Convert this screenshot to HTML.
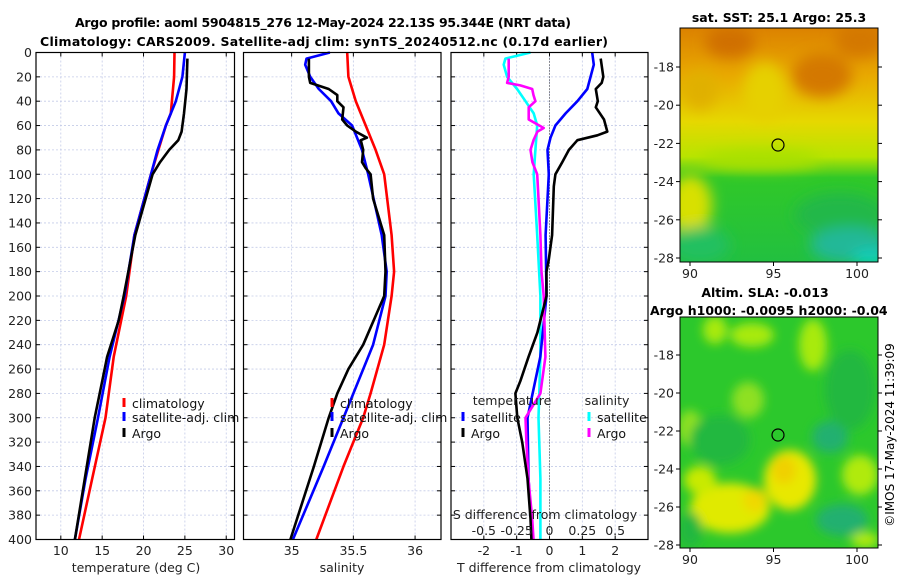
<!DOCTYPE html>
<html><head><meta charset="utf-8">
<style>
html,body{margin:0;padding:0;background:#fff;}
svg{display:block;font-family:"DejaVu Sans","Liberation Sans",sans-serif;}
</style></head>
<body>
<svg id="fig" width="900" height="580" viewBox="0 0 900 580">
<defs>
<filter id="blur1" x="-50%" y="-50%" width="200%" height="200%"><feGaussianBlur stdDeviation="7"/></filter>
<filter id="blur2" x="-50%" y="-50%" width="200%" height="200%"><feGaussianBlur stdDeviation="5"/></filter>
<clipPath id="clipTop"><rect x="680" y="28" width="198" height="234"/></clipPath>
<clipPath id="clipBot"><rect x="680" y="317" width="198" height="231"/></clipPath>
<linearGradient id="sstGrad" x1="0" y1="0" x2="0" y2="1">
<stop offset="0" stop-color="#dc8200"/><stop offset="0.2" stop-color="#e8a800"/>
<stop offset="0.4" stop-color="#e6d800"/><stop offset="0.55" stop-color="#b8e400"/>
<stop offset="0.64" stop-color="#30c828"/><stop offset="1" stop-color="#22c040"/>
</linearGradient>
</defs>
<text x="323" y="27" font-size="12.5" font-weight="bold" text-anchor="middle" textLength="496">Argo profile: aoml 5904815_276 12-May-2024 22.13S 95.344E (NRT data)</text>
<text x="324" y="46" font-size="12.5" font-weight="bold" text-anchor="middle" textLength="568">Climatology: CARS2009. Satellite-adj clim: synTS_20240512.nc (0.17d earlier)</text>

<g id="p1"></g>
<g id="p2"></g>
<g id="p3"></g>

<!-- SST map -->
<g>
<text x="779" y="22" font-size="12.5" font-weight="bold" text-anchor="middle">sat. SST: 25.1 Argo: 25.3</text>
<g clip-path="url(#clipTop)">
<rect x="680" y="28" width="198" height="234" fill="url(#sstGrad)"/>
<g filter="url(#blur1)">
<ellipse cx="730" cy="42" rx="25" ry="16" fill="#d07000"/>
<ellipse cx="822" cy="75" rx="30" ry="22" fill="#d47800"/>
<ellipse cx="860" cy="40" rx="25" ry="18" fill="#d47800"/>
<ellipse cx="765" cy="92" rx="22" ry="30" fill="#e6d000"/>
<ellipse cx="700" cy="90" rx="18" ry="20" fill="#e0b000"/>
<ellipse cx="690" cy="205" rx="22" ry="30" fill="#d8e000"/>
<ellipse cx="840" cy="215" rx="45" ry="22" fill="#22b848"/>
<ellipse cx="850" cy="245" rx="40" ry="18" fill="#20b898"/>
<ellipse cx="870" cy="258" rx="18" ry="8" fill="#10d0c0"/>
<ellipse cx="700" cy="245" rx="30" ry="18" fill="#22c060"/>
<ellipse cx="760" cy="160" rx="60" ry="10" fill="#a8e000"/>
</g>
</g>
<rect x="680" y="28" width="198" height="234" fill="none" stroke="#000" stroke-width="1"/>
<circle cx="778" cy="145" r="6" fill="none" stroke="#000" stroke-width="1.2"/>
<g id="mapTopAxis"></g>
</g>

<!-- SLA map -->
<g>
<text x="765" y="297" font-size="12.5" font-weight="bold" text-anchor="middle">Altim. SLA: -0.013</text>
<text x="650" y="315" font-size="12.5" font-weight="bold">Argo h1000: -0.0095 h2000: -0.04</text>
<g clip-path="url(#clipBot)">
<rect x="680" y="317" width="198" height="231" fill="#2cc82c"/>
<g filter="url(#blur2)">
<ellipse cx="715" cy="330" rx="12" ry="14" fill="#a8ea10"/>
<ellipse cx="752" cy="335" rx="22" ry="12" fill="#a8ea10"/>
<ellipse cx="813" cy="345" rx="14" ry="26" fill="#a8ea10"/>
<ellipse cx="748" cy="400" rx="16" ry="18" fill="#8ee020"/>
<ellipse cx="690" cy="428" rx="12" ry="18" fill="#8ee020"/>
<ellipse cx="860" cy="475" rx="18" ry="20" fill="#b0ea10"/>
<ellipse cx="865" cy="540" rx="14" ry="8" fill="#b0ea10"/>
<ellipse cx="790" cy="480" rx="26" ry="30" fill="#e8e800"/>
<ellipse cx="784" cy="470" rx="12" ry="14" fill="#f0d000"/>
<ellipse cx="730" cy="508" rx="40" ry="25" fill="#e0ea00"/>
<ellipse cx="755" cy="500" rx="12" ry="12" fill="#f0d800"/>
<ellipse cx="700" cy="480" rx="16" ry="14" fill="#c8ea00"/>
<ellipse cx="830" cy="437" rx="18" ry="16" fill="#20b070"/>
<ellipse cx="842" cy="520" rx="26" ry="16" fill="#20b070"/>
<ellipse cx="850" cy="390" rx="25" ry="40" fill="#22b840"/>
<ellipse cx="720" cy="440" rx="30" ry="25" fill="#22b840"/>
<ellipse cx="690" cy="530" rx="12" ry="18" fill="#22b840"/>
</g>
</g>
<rect x="680" y="317" width="198" height="231" fill="none" stroke="#000" stroke-width="1"/>
<circle cx="778" cy="435" r="6" fill="none" stroke="#000" stroke-width="1.2"/>
<g id="mapBotAxis"></g>
</g>
<text transform="translate(894,435) rotate(-90)" font-size="12" text-anchor="middle">©IMOS 17-May-2024 11:39:09</text>
</svg>

<script>
// ---- data ----
const depthTicks = [0,20,40,60,80,100,120,140,160,180,200,220,240,260,280,300,320,340,360,380,400];
const tempTicks = [10,15,20,25,30];
const salTicks = [35,35.5,36];
const tdiffTicks = [-2,-1,0,1,2];
const sdiffTicks = [-0.5,-0.25,0,0.25,0.5];
const sdiffTickLabels = ["-0.5","-0.25","0","0.25","0.5"];

const tClimDepth = [0,20,50,60,80,100,150,200,250,300,350,400];
const tClim = [23.75,23.7,23.3,22.7,21.8,20.9,18.9,17.9,16.4,15.4,13.8,12.2];
const tSatDepth = [0,20,40,60,80,100,150,200,250,300,350,400];
const tSat = [25.0,24.7,23.9,22.7,21.7,20.9,18.9,17.7,15.9,14.5,13.0,11.7];
const tArgoDepth = [5,30,50,65,72,80,90,100,150,200,220,250,270,300,350,400];
const tArgo = [25.3,25.2,24.9,24.6,24.2,23.1,22.0,21.1,19.0,17.6,17.0,15.6,15.0,14.1,12.9,11.7];

const sClimDepth = [0,20,40,60,80,100,150,180,200,240,280,300,340,400];
const sClim = [35.45,35.46,35.52,35.60,35.68,35.75,35.81,35.83,35.81,35.75,35.64,35.58,35.42,35.20];
const sSatDepth = [0,5,10,20,30,40,50,60,80,100,150,180,200,240,280,300,340,400];
const sSat = [35.31,35.12,35.11,35.15,35.22,35.32,35.38,35.49,35.57,35.62,35.73,35.77,35.76,35.66,35.50,35.42,35.26,35.01];
const sArgoDepth = [5,20,25,30,35,40,45,55,60,65,70,72,80,90,95,100,120,150,180,200,240,260,280,300,340,400];
const sArgo = [35.14,35.14,35.15,35.30,35.37,35.37,35.42,35.41,35.45,35.52,35.61,35.56,35.58,35.57,35.60,35.64,35.66,35.75,35.76,35.75,35.58,35.46,35.37,35.30,35.18,34.99];

const dtSatDepth = [0,10,30,40,50,60,70,80,100,150,200,250,300,350,400];
const dtSat = [1.30,1.35,1.15,0.85,0.49,0.18,0.03,-0.06,-0.02,-0.12,-0.09,-0.28,-0.67,-0.64,-0.52];
const dtArgoDepth = [5,20,25,30,40,45,55,65,68,72,80,90,100,110,150,170,180,200,230,250,270,280,300,320,350,383,400];
const dtArgo = [1.56,1.64,1.59,1.41,1.47,1.41,1.66,1.76,1.46,0.85,0.59,0.39,0.18,0.13,0.08,-0.02,-0.09,-0.09,-0.37,-0.64,-0.89,-1.04,-0.98,-0.83,-0.67,-0.58,-0.55];
const dsSatDepth = [0,5,10,20,30,40,50,60,80,100,150,200,250,300,350,400];
const dsSat = [-0.145,-0.336,-0.349,-0.323,-0.247,-0.183,-0.120,-0.094,-0.107,-0.120,-0.094,-0.069,-0.069,-0.084,-0.069,-0.069];
const dsArgoDepth = [5,20,25,27,30,35,40,45,55,62,65,72,80,90,100,120,150,180,200,250,280,300,320,350,383,400];
const dsArgo = [-0.311,-0.311,-0.323,-0.222,-0.132,-0.122,-0.107,-0.158,-0.158,-0.044,-0.092,-0.122,-0.145,-0.130,-0.094,-0.084,-0.069,-0.061,-0.044,-0.031,-0.069,-0.183,-0.176,-0.161,-0.132,-0.122];

const lonTicks = [90,95,100];
const latTicks = [-18,-20,-22,-24,-26,-28];

// ---- drawing ----
const NS = "http://www.w3.org/2000/svg";
function mk(tag, attrs, parent){const e=document.createElementNS(NS,tag);for(const k in attrs)e.setAttribute(k,attrs[k]);parent.appendChild(e);return e;}
const TOP=52.5, BOT=539.5;
const yScale = d => TOP + (d/400)*(BOT-TOP);

function panel(g, x0, x1, xmin, xmax, ticks, showY){
  const xs = v => x0 + (v-xmin)/(xmax-xmin)*(x1-x0);
  depthTicks.forEach(d=>{
    const l=mk('line',{x1:x0,x2:x1,y1:yScale(d),y2:yScale(d),stroke:'#c4cbe8','stroke-width':0.8,'stroke-dasharray':'2,2'},g);
    
    
    mk('line',{x1:x0,x2:x0+4,y1:yScale(d),y2:yScale(d),stroke:'#000'},g);
    mk('line',{x1:x1,x2:x1-4,y1:yScale(d),y2:yScale(d),stroke:'#000'},g);
    if(showY){
      const t=mk('text',{x:x0-4,y:yScale(d)+4.5,'font-size':12.5,'text-anchor':'end',fill:'#222'},g);
      t.textContent=d;
      
      
    }
  });
  ticks.forEach(v=>{
    const l=mk('line',{x1:xs(v),x2:xs(v),y1:TOP,y2:BOT,stroke:'#c4cbe8','stroke-width':0.8,'stroke-dasharray':'2,2'},g);
    
    
    mk('line',{x1:xs(v),x2:xs(v),y1:BOT,y2:BOT-4,stroke:'#000'},g);
    mk('line',{x1:xs(v),x2:xs(v),y1:TOP,y2:TOP+4,stroke:'#000'},g);
    const t=mk('text',{x:xs(v),y:555,'font-size':12.5,'text-anchor':'middle',fill:'#222'},g);
    t.textContent=v;
    
    
  });
  return xs;
}
function line(g, xs, vals, depths, color, name){
  const pts = vals.map((v,i)=>xs(v).toFixed(1)+','+yScale(depths[i]).toFixed(1)).join(' ');
  const p=mk('polyline',{points:pts,fill:'none',stroke:color,'stroke-width':2.6,'stroke-linejoin':'round'},g);
  
  
}
function frame(g,x0,x1){mk('rect',{x:x0,y:TOP,width:x1-x0,height:BOT-TOP,fill:'none',stroke:'#000','stroke-width':1.2},g);}
function legendItem(g,x,y,color,label,name){
  mk('rect',{x:x-1.5,y:y-10,width:3,height:9,fill:color},g);
  const t=mk('text',{x:x+8,y:y,'font-size':12.5,fill:'#111'},g);
  t.textContent=label;
  
  
}
function xlabel(g,x,y,txt,name){const t=mk('text',{x:x,y:y,'font-size':12.5,'text-anchor':'middle',fill:'#222'},g);t.textContent=txt;return t;}

// Panel 1
const g1=document.getElementById('p1');
const xT=panel(g1,36,234.5,7,31,tempTicks,true);
line(g1,xT,tClim,tClimDepth,'#ff0000','temp-climatology-line');
line(g1,xT,tSat,tSatDepth,'#0000ff','temp-satellite-line');
line(g1,xT,tArgo,tArgoDepth,'#000000','temp-argo-line');
legendItem(g1,124,408,'#ff0000','climatology','legend-climatology');
legendItem(g1,124,422,'#0000ff','satellite-adj. clim','legend-satellite');
legendItem(g1,124,438,'#000000','Argo','legend-argo');
frame(g1,36,234.5);
xlabel(g1,136,572,'temperature (deg C)','temperature-axis-title');

// Panel 2
const g2=document.getElementById('p2');
const xS=panel(g2,243.5,441,34.61,36.21,salTicks,false);
line(g2,xS,sClim,sClimDepth,'#ff0000','sal-climatology-line');
line(g2,xS,sSat,sSatDepth,'#0000ff','sal-satellite-line');
line(g2,xS,sArgo,sArgoDepth,'#000000','sal-argo-line');
legendItem(g2,332,408,'#ff0000','climatology','legend-climatology-2');
legendItem(g2,332,422,'#0000ff','satellite-adj. clim','legend-satellite-2');
legendItem(g2,332,438,'#000000','Argo','legend-argo-2');
frame(g2,243.5,441);
xlabel(g2,342,572,'salinity','salinity-axis-title');

// Panel 3
const g3=document.getElementById('p3');
const xD=panel(g3,451,648,-3,3,tdiffTicks,false);
const xSD = v => xD(v*4);
mk('line',{x1:xD(0),x2:xD(0),y1:TOP,y2:BOT,stroke:'#333','stroke-width':1,'stroke-dasharray':'1,2'},g3);
line(g3,xSD,dsSat,dsSatDepth,'#00ffff','sdiff-satellite-line');
line(g3,xD,dtSat,dtSatDepth,'#0000ff','tdiff-satellite-line');
line(g3,xSD,dsArgo,dsArgoDepth,'#ff00ff','sdiff-argo-line');
line(g3,xD,dtArgo,dtArgoDepth,'#000000','tdiff-argo-line');
xlabel(g3,512,405,'temperature','legend-temperature-heading');
xlabel(g3,607,405,'salinity','legend-salinity-heading');
legendItem(g3,463,422,'#0000ff','satellite','legend-tdiff-satellite');
legendItem(g3,463,438,'#000000','Argo','legend-tdiff-argo');
legendItem(g3,589,422,'#00ffff','satellite','legend-sdiff-satellite');
legendItem(g3,589,438,'#ff00ff','Argo','legend-sdiff-argo');
xlabel(g3,545,519,'S difference from climatology','sdiff-axis-title');
sdiffTicks.forEach((v,i)=>{
  const t=mk('text',{x:xSD(v),y:535,'font-size':12.5,'text-anchor':'middle',fill:'#222'},g3);
  t.textContent=sdiffTickLabels[i];
  
  
});
frame(g3,451,648);
xlabel(g3,549,572,'T difference from climatology','tdiff-axis-title');

// Map axes: plot box (x0,x1,yTop,yBot), y of -18 and y of -28
function mapAxis(id,x0,x1,yBot,y18,y28){
  const g=document.getElementById(id);
  const lx = v => 690 + (v-90)/10*(857-690);
  const ly = v => y18 + (v+18)/(-10)*(y28-y18);
  lonTicks.forEach(v=>{
    mk('line',{x1:lx(v),x2:lx(v),y1:yBot,y2:yBot+4,stroke:'#000'},g);
    const t=mk('text',{x:lx(v),y:yBot+16,'font-size':12.5,'text-anchor':'middle',fill:'#222'},g);
    t.textContent=v;
    
    
  });
  latTicks.forEach(v=>{
    mk('line',{x1:x0,x2:x0-4,y1:ly(v),y2:ly(v),stroke:'#000'},g);
    mk('line',{x1:x1,x2:x1+4,y1:ly(v),y2:ly(v),stroke:'#000'},g);
    const t=mk('text',{x:x0-6,y:ly(v)+4.5,'font-size':12.5,'text-anchor':'end',fill:'#222'},g);
    t.textContent=v;
    
    
  });
}
mapAxis('mapTopAxis',680,878,262,67,258);
mapAxis('mapBotAxis',680,878,548,355,545);
</script>
</body></html>
